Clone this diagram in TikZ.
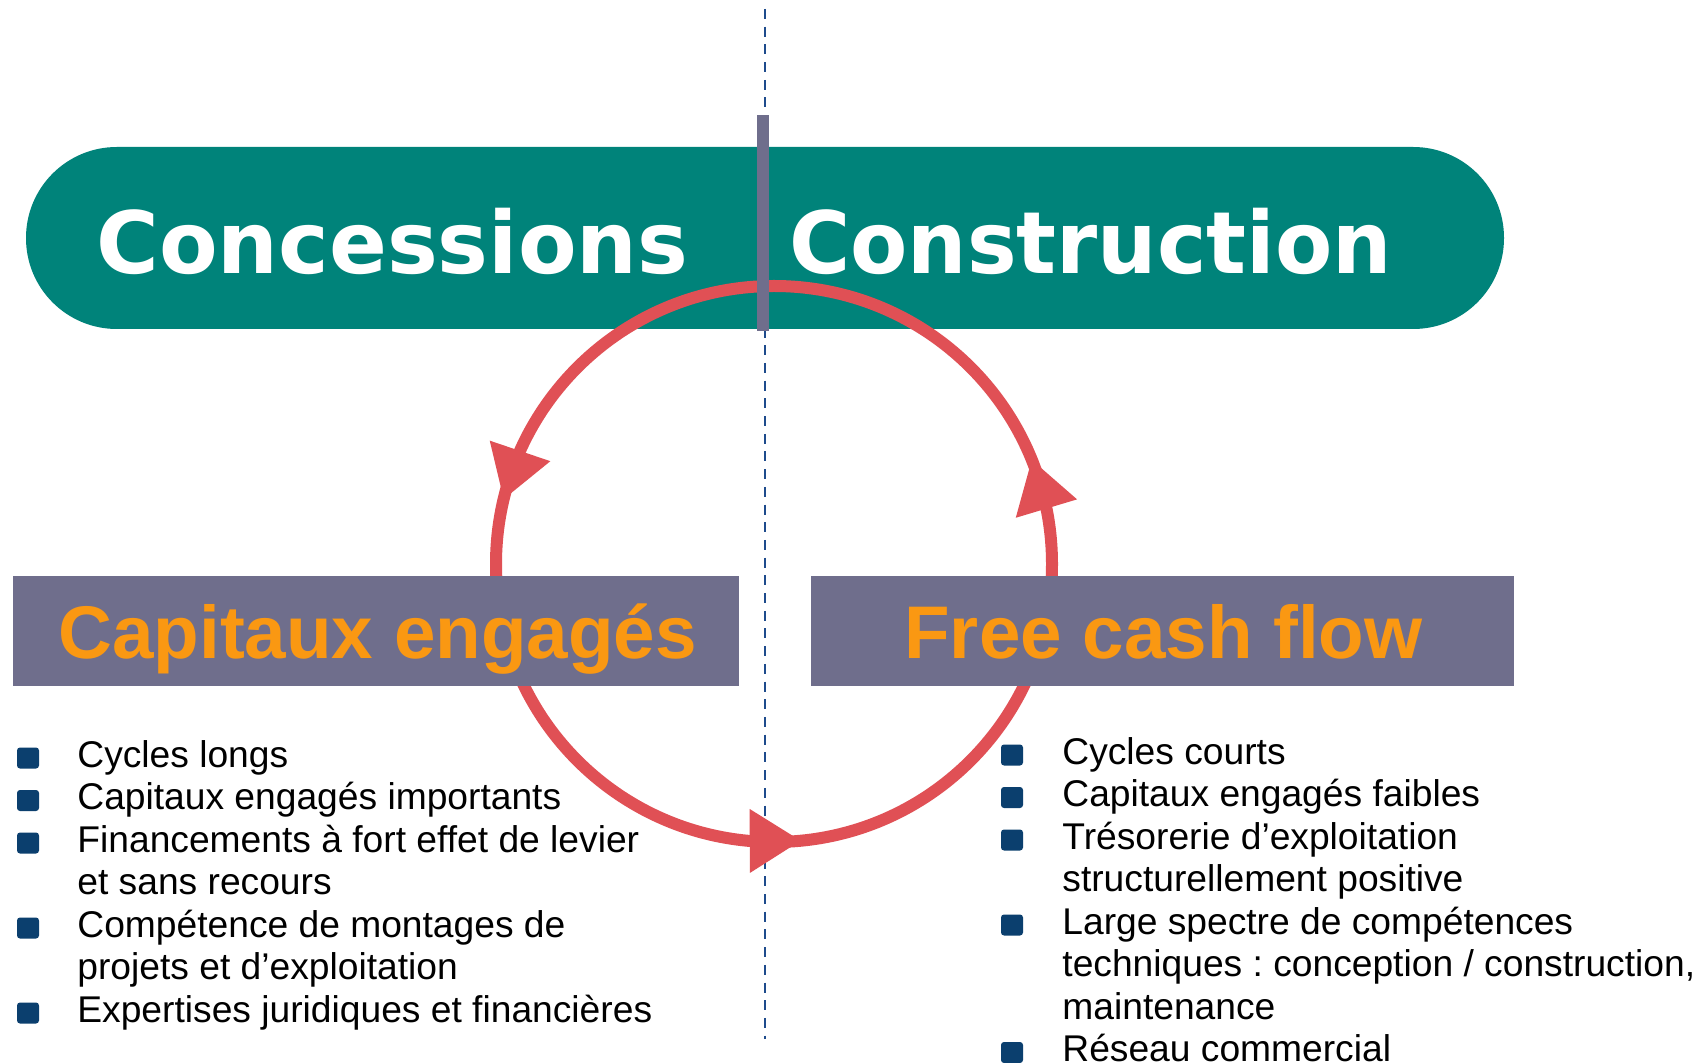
\documentclass[tikz,border=0pt]{standalone}
\usepackage{fontspec}
\setmainfont{Liberation Sans}
\newfontfamily\headfont{DejaVu Sans}
\usetikzlibrary{calc}
\frenchspacing
\definecolor{teal}{RGB}{0,131,122}
\definecolor{slate}{RGB}{111,110,140}
\definecolor{orng}{RGB}{250,152,18}
\definecolor{cyclered}{RGB}{224,80,85}
\definecolor{bulletblue}{RGB}{11,63,110}
\definecolor{dashblue}{RGB}{30,75,140}
\tikzset{
  headtext/.style={anchor=base west, inner sep=0pt, text=white, font=\headfont\bfseries\fontsize{43pt}{43pt}\selectfont},
  titletext/.style={anchor=base west, inner sep=0pt, text=orng, font=\bfseries\fontsize{37.3pt}{37.3pt}\selectfont},
  itemtext/.style={anchor=base west, inner sep=0pt, text=black, font=\fontsize{18.6pt}{21.25pt}\selectfont\frenchspacing},
  bulletsq/.style={fill=bulletblue, rounded corners=1.5pt, minimum width=11pt, minimum height=10.5pt, inner sep=0pt},
  graybox/.style={fill=slate, inner sep=0pt, minimum height=55pt},
}
\begin{document}
\begin{tikzpicture}[x=0.5pt,y=0.5pt]
\useasboundingbox (0,0) rectangle (1703,-1063);
\fill[white] (0,0) rectangle (1703,-1063);
% dashed divider
\coordinate (dtop) at (765,-9);
\coordinate (dbot) at (765,-1039);
\draw[dashblue, line width=1.25pt, dash pattern=on 5pt off 3.85pt] (dtop) -- (dbot);
% green pill
\node (pill) [fill=teal, rounded corners=45.4pt, minimum width=739pt, minimum height=91pt, inner sep=0pt] at (765,-238) {};
\node (conc) [headtext] at (96,-274) {\scalebox{0.993}[1]{Concessions}};
\node (cons) [headtext] at (789,-274) {\scalebox{0.97}[1]{Construction}};
% cycle circle
\coordinate (C) at (774,-564);
\draw[cyclered, line width=6pt] (C) circle [radius=139pt];
% arrowheads
\foreach \tip/\base/\nm in {166.5/156/L, 275.5/265/B, 22/11.5/R}{
  \coordinate (\nm t) at ($(C)+(\tip:278)$);
  \coordinate (\nm b) at ($(C)+(\base:278)$);
  \fill[cyclered] (\nm t) -- ($(\nm b)!16pt!90:(\nm t)$) -- ($(\nm b)!16pt!-90:(\nm t)$) -- cycle;
}
% gray bar
\fill[slate] (757,-115) rectangle (769,-331);
% gray boxes
\node (capbox) [graybox, minimum width=363pt] at (376,-631) {};
\node (fcfbox) [graybox, minimum width=351.5pt] at (1162.5,-631) {};
\node (captitle) [titletext] at (58,-659) {Capitaux engagés};
\node (fcftitle) [titletext] at (904,-659) {Free cash flow};
% left list
\foreach \t/\row/\b [count=\i] in {
  {Cycles longs}/0/1,
  {Capitaux engagés importants}/1/1,
  {Financements à fort effet de levier}/2/1,
  {et sans recours}/3/0,
  {Compétence de montages de}/4/1,
  {projets et d’exploitation}/5/0,
  {Expertises juridiques et financières}/6/1}{
  \node (l\i) [itemtext] at (77,{-767-42.5*\row}) {\t};
  \ifnum\b=1 \node (lb\i) [bulletsq] at (28,{-758-42.5*\row}) {};\fi
}
% right list
\foreach \t/\row/\b [count=\i] in {
  {Cycles courts}/0/1,
  {Capitaux engagés faibles}/1/1,
  {Trésorerie d’exploitation}/2/1,
  {structurellement positive}/3/0,
  {Large spectre de compétences}/4/1,
  {techniques : conception / construction,}/5/0,
  {maintenance}/6/0,
  {Réseau commercial}/7/1}{
  \node (r\i) [itemtext] at (1062,{-764-42.5*\row}) {\t};
  \ifnum\b=1 \node (rb\i) [bulletsq] at (1012,{-755-42.5*\row}) {};\fi
}
\end{tikzpicture}
\end{document}
